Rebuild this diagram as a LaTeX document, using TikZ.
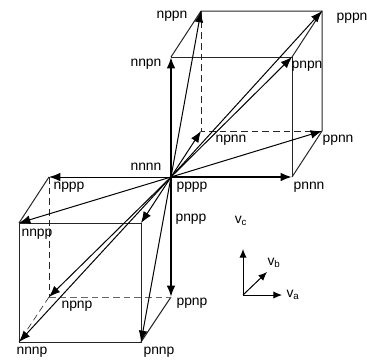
\documentclass[tikz,border=0pt]{standalone}
\usepackage{fontspec}
\setmainfont{Liberation Sans}
\usetikzlibrary{arrows.meta}
\tikzset{
  vec/.style={-{Latex[length=8.5pt,width=6.5pt]}, line width=0.75pt},
  vecbold/.style={vec, line width=1.5pt},
  axvec/.style={-{Latex[length=6.5pt,width=5.5pt]}, line width=0.75pt},
  edge/.style={line width=0.75pt, draw=black!85},
  hidden/.style={edge, dash pattern=on 5pt off 3pt},
  lab/.style={inner sep=0pt, font=\fontsize{10.4}{12}\selectfont},
}
\begin{document}
\begin{tikzpicture}[x=0.75pt, y=-0.75pt]
  \useasboundingbox (0,0) rectangle (367,362);

  % corners
  \coordinate (o) at (171,177);
  \coordinate (pnnn) at (292,177);
  \coordinate (nnpn) at (171,57);
  \coordinate (pnpn) at (292,57);
  \coordinate (npnn) at (201,131);
  \coordinate (ppnn) at (322,131);
  \coordinate (nppn) at (201,11);
  \coordinate (pppn) at (322,11);
  \coordinate (nppp) at (49,177);
  \coordinate (nnpp) at (19,223);
  \coordinate (pnpp) at (141,223);
  \coordinate (npnp) at (49,297);
  \coordinate (ppnp) at (171,297);
  \coordinate (nnnp) at (19,342);
  \coordinate (pnnp) at (141,342);

  % upper cube
  \draw[edge] (nnpn) -- (pnpn) -- (pnnn);
  \draw[edge] (nnpn) -- (nppn) -- (pppn) -- (ppnn) -- (pnnn);
  \draw[edge] (pnpn) -- (pppn);
  \draw[hidden] (nppn) -- (npnn) -- (ppnn);

  % lower cube
  \draw[edge] (nnpp) -- (pnpp) -- (pnnp) -- (nnnp) -- cycle;
  \draw[edge] (nnpp) -- (nppp);
  \draw[edge] (pnnp) -- (ppnp);
  \draw[hidden] (nppp) -- (npnp);
  \draw[hidden, black!60, line width=0.6pt] (npnp) -- (ppnp);
  \draw[hidden, line width=0.5pt] (npnp) -- (nnnp);

  % vectors
  \foreach \v in {pnpn,npnn,ppnn,nppn,pppn,nppp,nnpp,pnpp,npnp,pnnp,nnnp}
    \draw[vec] (o) -- (\v);
  \foreach \v in {pnnn,nnpn,ppnp}
    \draw[vecbold] (o) -- (\v);

  % labels
  \node[lab] (lnppn) at (172,16) {nppn};
  \node[lab] (lpppn) at (352,18) {pppn};
  \node[lab] (lnnpn) at (146,64) {nnpn};
  \node[lab] (lpnpn) at (307,66) {pnpn};
  \node[lab] (lnpnn) at (231,140) {npnn};
  \node[lab] (lppnn) at (338,140) {ppnn};
  \node[lab] (lnnnn) at (146,167) {nnnn};
  \node[lab] (lpppp) at (192,187) {pppp};
  \node[lab] (lpnnn) at (309,187) {pnnn};
  \node[lab] (lnppp) at (69,187) {nppp};
  \node[lab] (lpnpp) at (191,219) {pnpp};
  \node[lab] (lnnpp) at (37,234) {nnpp};
  \node[lab] (lppnp) at (192,303) {ppnp};
  \node[lab] (lnpnp) at (77,306) {npnp};
  \node[lab] (lnnnp) at (32,352) {nnnp};
  \node[lab] (lpnnp) at (159,352) {pnnp};

  % axes
  \coordinate (ax) at (243,295);
  \coordinate (axa) at (282,295);
  \coordinate (axb) at (267,272);
  \coordinate (axc) at (243,249);
  \draw[axvec] (ax) -- (axa);
  \draw[axvec] (ax) -- (axb);
  \draw[axvec] (ax) -- (axc);
  \node[lab] (lvc) at (241,221) {v\textsubscript{c}};
  \node[lab] (lvb) at (274,263) {v\textsubscript{b}};
  \node[lab] (lva) at (293,295) {v\textsubscript{a}};
\end{tikzpicture}
\end{document}
